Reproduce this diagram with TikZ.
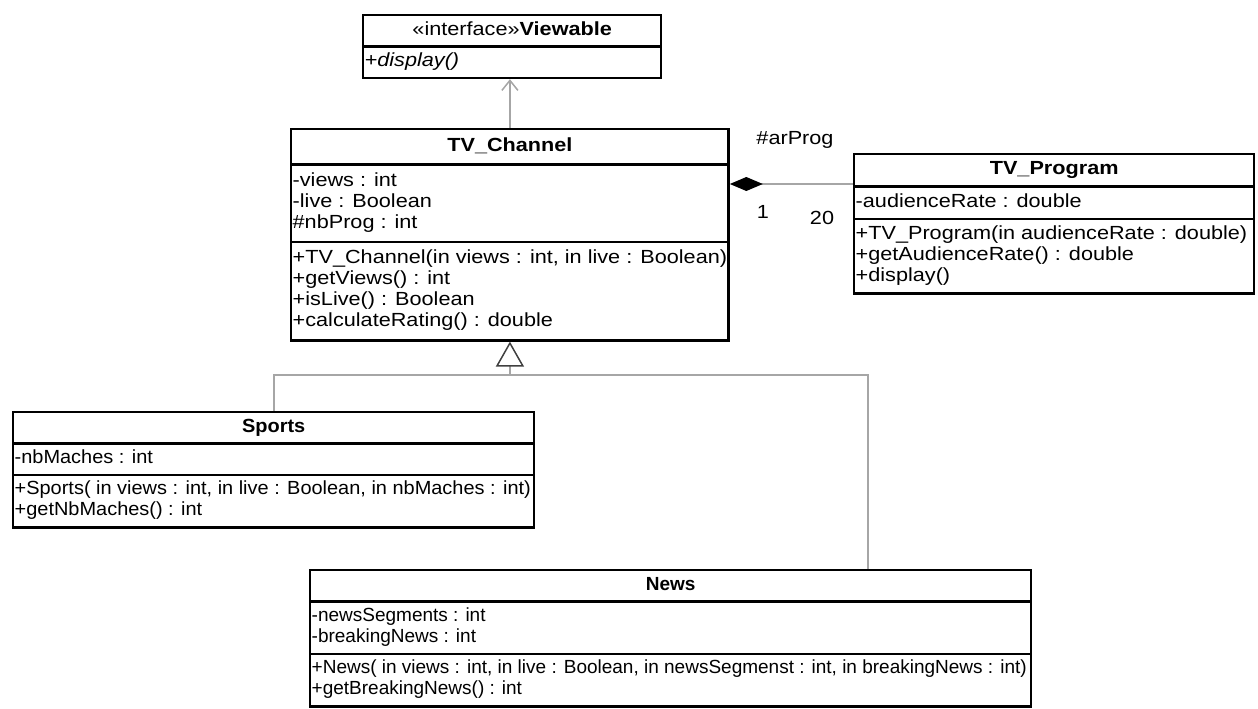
\documentclass[tikz,border=0pt]{standalone}
\usepackage{fontspec}
\setmainfont{Liberation Sans}[FakeStretch=1.14]
\newfontfamily\newsfont{Liberation Sans}
\newfontfamily\sportsfont{Liberation Sans}[FakeStretch=1.05]
\usetikzlibrary{shapes.multipart,arrows.meta}

\begin{document}
\begin{tikzpicture}
		[x=1pt,y=1pt,
		umlclass/.style={rectangle split, rectangle split parts=3,
			rectangle split part align={center,left,left},
			draw=black, line width=2.4pt, minimum width=#1, align=left,
			inner xsep=1.5pt, inner ysep=5.5pt, anchor=north west,
			font=\fontsize{19}{21}\selectfont},
		link/.style={draw=black!35, line width=1.8pt},
		lbl/.style={font=\fontsize{19}{21}\selectfont, inner sep=0pt}]

		\useasboundingbox (0,0) rectangle (1258,-709);

		\node[umlclass=298, rectangle split parts=2, inner ysep=4pt] (viewable) at (362,-14)
			{\strut«interface»\textbf{Viewable}
			\nodepart{two}\strut\textit{+display()}};

		\node[umlclass=437, inner ysep=6pt] (channel) at (290,-128)
			{\strut\textbf{TV\_Channel}
			\nodepart{two}\strut-views : int\\\strut-live : Boolean\\\strut\#nbProg : int
			\nodepart{three}\strut+TV\_Channel(in views : int, in live : Boolean)\\\strut+getViews() : int\\\strut+isLive() : Boolean\\\strut+calculateRating() : double};

		\node[umlclass=400, inner ysep=4.5pt] (program) at (853,-153)
			{\strut\textbf{TV\_Program}
			\nodepart{two}\strut-audienceRate : double
			\nodepart{three}\strut+TV\_Program(in audienceRate : double)\\\strut+getAudienceRate() : double\\\strut+display()};

		\node[umlclass=521, inner ysep=4pt, font=\sportsfont\fontsize{19}{21}\selectfont] (sports) at (12,-411)
			{\strut\textbf{Sports}
			\nodepart{two}\strut-nbMaches : int
			\nodepart{three}\strut+Sports( in views : int, in live : Boolean, in nbMaches : int)\\\strut+getNbMaches() : int};

		\node[umlclass=721, inner ysep=4pt, font=\newsfont\fontsize{19}{21}\selectfont] (news) at (309,-569)
			{\strut\textbf{News}
			\nodepart{two}\strut-newsSegments : int\\\strut-breakingNews : int
			\nodepart{three}\strut+News( in views : int, in live : Boolean, in newsSegmenst : int, in breakingNews : int)\\\strut+getBreakingNews() : int};

		% realization
		\draw[link, -{Straight Barb[length=10pt,width=16pt,line width=1.5pt]}]
			(channel.north) -- (channel.north |- viewable.south);

		% composition
		\coordinate (comp) at ([yshift=-56pt]channel.north east);
		\draw[link, {Diamond[length=33pt,width=14pt,color=black,fill=black]}-]
			(comp) -- (comp -| program.west);
		\node[lbl] (role) at (795,-140) {\#arProg};
		\node[lbl] (multA) at (763,-212) {1};
		\node[lbl] (multB) at (822,-218) {20};

		% generalization
		\coordinate (hub) at (channel.south |- 0,-375);
		\draw[link, -{Triangle[open,length=25pt,width=28pt,color=black!75,line width=1.5pt]}]
			(hub) -- (channel.south);
		\draw[link] (sports.north) |- (hub) -| (news.north -| 868,0);

	\end{tikzpicture}
\end{document}
